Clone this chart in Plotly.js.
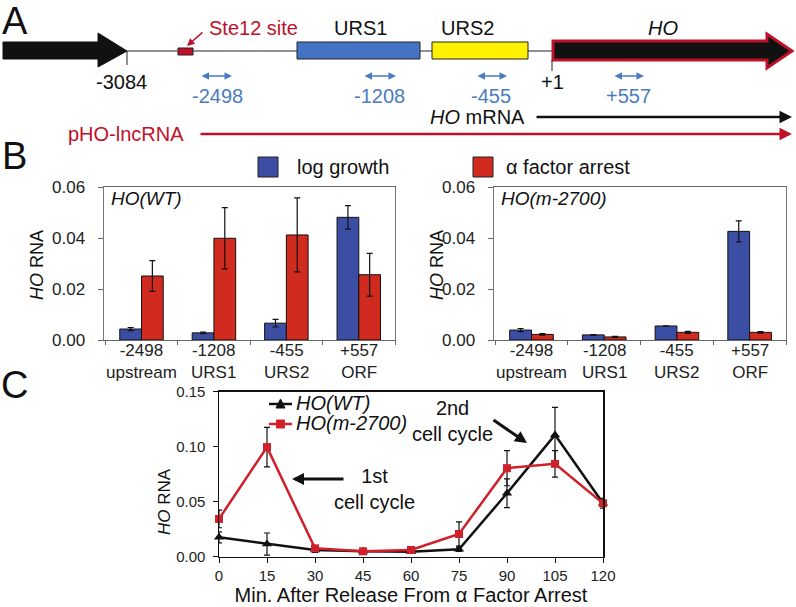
<!DOCTYPE html>
<html>
<head>
<meta charset="utf-8">
<script src="https://cdn.plot.ly/plotly-3.0.1.min.js"></script>
<style>
  body { margin: 0; background: #fff; }
  #fig { width: 796px; height: 607px; }
</style>
</head>
<body>
<div id="fig"></div>
<script>
// panel B data
const sites = ['-2498', '-1208', '-455', '+557'];
const regions = ['upstream', 'URS1', 'URS2', 'ORF'];
const wtLog = [0.0043, 0.0028, 0.0066, 0.0481];
const wtLogErr = [0.0006, 0.0003, 0.0015, 0.0046];
const wtAlpha = [0.0251, 0.0399, 0.0412, 0.0256];
const wtAlphaErr = [0.0060, 0.0120, 0.0145, 0.0084];
const mutLog = [0.0039, 0.0020, 0.0055, 0.0426];
const mutLogErr = [0.0006, 0.0001, 0.0000, 0.0041];
const mutAlpha = [0.0022, 0.0012, 0.0030, 0.0030];
const mutAlphaErr = [0.0003, 0.0002, 0.0004, 0.0003];

// panel C data
const minutes = [0, 15, 30, 45, 60, 75, 90, 105, 120];
const wtTime = [0.0176, 0.0115, 0.0060, 0.0049, 0.0045, 0.0067, 0.0576, 0.1106, 0.0485];
const wtTimeErr = [0.005, 0.010, 0.002, 0.001, 0.001, 0.002, 0.013, 0.025, 0.0045];
const mutTime = [0.0343, 0.0995, 0.0076, 0.0049, 0.0061, 0.0206, 0.0804, 0.0843, 0.0485];
const mutTimeErr = [0.008, 0.018, 0.002, 0.001, 0.001, 0.011, 0.016, 0.012, 0.003];

const W = 796, H = 607;
const px = x => x / W;
const py = y => 1 - y / H;

const FONT = 'Liberation Sans, Arial, sans-serif';
const BLUE = '#3C4EA4';
const RED = '#D12A1E';
const DARKRED = '#C0102A';
const LBLUE = '#4A7CC0';
const LINERED = '#D0202A';
const NB = '\u00a0';

const err = (arr) => ({ type: 'data', array: arr, visible: true, color: '#111', thickness: 1.2, width: 3 });

const data = [
  { type: 'bar', x: sites, y: wtLog, error_y: err(wtLogErr), marker: { color: BLUE, line: { color: '#111', width: 1 } }, xaxis: 'x', yaxis: 'y' },
  { type: 'bar', x: sites, y: wtAlpha, error_y: err(wtAlphaErr), marker: { color: RED, line: { color: '#111', width: 1 } }, xaxis: 'x', yaxis: 'y' },
  { type: 'bar', x: sites, y: mutLog, error_y: err(mutLogErr), marker: { color: BLUE, line: { color: '#111', width: 1 } }, xaxis: 'x2', yaxis: 'y2' },
  { type: 'bar', x: sites, y: mutAlpha, error_y: err(mutAlphaErr), marker: { color: RED, line: { color: '#111', width: 1 } }, xaxis: 'x2', yaxis: 'y2' },
  { type: 'scatter', mode: 'lines+markers', x: minutes, y: wtTime, error_y: err(wtTimeErr),
    line: { color: '#111', width: 2.5 }, marker: { symbol: 'triangle-up', size: 9, color: '#111' },
    xaxis: 'x3', yaxis: 'y3', cliponaxis: false },
  { type: 'scatter', mode: 'lines+markers', x: minutes, y: mutTime, error_y: err(mutTimeErr),
    line: { color: LINERED, width: 2.5 }, marker: { symbol: 'square', size: 8, color: LINERED },
    xaxis: 'x3', yaxis: 'y3', cliponaxis: false }
];

const barY = { domain: [py(340), py(187)], range: [0, 0.06], dtick: 0.02, tickformat: '.2f',
  ticks: 'outside', ticklen: 5, tickcolor: '#666', showline: true, linecolor: '#777', mirror: true,
  showgrid: false, zeroline: false, ticksuffix: NB + NB, tickfont: { size: 17, color: '#222' } };
const barX = { type: 'category', categoryorder: 'array', categoryarray: sites, ticks: 'outside', ticklen: 4,
  tickcolor: '#666', tickson: 'boundaries', showticklabels: false, showline: true, linecolor: '#666',
  mirror: true, showgrid: false };

const shapes = [
  // backbone line
  { type: 'line', xref: 'paper', yref: 'paper', x0: px(127), x1: px(552), y0: py(51), y1: py(51), line: { color: '#222', width: 1 } },
  // left gene arrow
  { type: 'path', xref: 'paper', yref: 'paper',
    path: `M ${px(3)} ${py(42)} L ${px(98)} ${py(42)} L ${px(98)} ${py(33)} L ${px(127)} ${py(51)} L ${px(98)} ${py(67)} L ${px(98)} ${py(59)} L ${px(3)} ${py(59)} Z`,
    fillcolor: '#111', line: { color: '#111', width: 1 } },
  { type: 'line', xref: 'paper', yref: 'paper', x0: px(127), x1: px(127), y0: py(51), y1: py(65), line: { color: '#222', width: 1 } },
  // Ste12 box
  { type: 'rect', xref: 'paper', yref: 'paper', x0: px(178), x1: px(193), y0: py(48), y1: py(55), fillcolor: DARKRED, line: { color: '#222', width: 1 } },
  // URS1, URS2
  { type: 'rect', xref: 'paper', yref: 'paper', x0: px(297), x1: px(420), y0: py(42), y1: py(59), fillcolor: '#4472C4', line: { color: '#222', width: 1 } },
  { type: 'rect', xref: 'paper', yref: 'paper', x0: px(432), x1: px(528), y0: py(42), y1: py(59), fillcolor: '#FFF200', line: { color: '#222', width: 1 } },
  // HO gene arrow
  { type: 'path', xref: 'paper', yref: 'paper',
    path: `M ${px(553)} ${py(41)} L ${px(767)} ${py(41)} L ${px(767)} ${py(34)} L ${px(792)} ${py(51)} L ${px(767)} ${py(68)} L ${px(767)} ${py(60)} L ${px(553)} ${py(60)} Z`,
    fillcolor: '#111', line: { color: DARKRED, width: 3 } },
  { type: 'line', xref: 'paper', yref: 'paper', x0: px(552), x1: px(552), y0: py(60), y1: py(71), line: { color: '#222', width: 1 } },
  // legend squares for B
  { type: 'rect', xref: 'paper', yref: 'paper', x0: px(258), x1: px(278), y0: py(157), y1: py(177), fillcolor: BLUE, line: { color: '#222', width: 1 } },
  { type: 'rect', xref: 'paper', yref: 'paper', x0: px(473), x1: px(493), y0: py(157), y1: py(177), fillcolor: RED, line: { color: '#222', width: 1 } },
  // legend keys for C
  { type: 'line', xref: 'paper', yref: 'paper', x0: px(269), x1: px(292), y0: py(404), y1: py(404), line: { color: '#111', width: 2.5 } },
  { type: 'path', xref: 'paper', yref: 'paper',
    path: `M ${px(276)} ${py(408)} L ${px(285)} ${py(408)} L ${px(280.5)} ${py(399)} Z`, fillcolor: '#111', line: { color: '#111', width: 1 } },
  { type: 'line', xref: 'paper', yref: 'paper', x0: px(269), x1: px(292), y0: py(424), y1: py(424), line: { color: LINERED, width: 2.5 } },
  { type: 'rect', xref: 'paper', yref: 'paper', x0: px(276.5), x1: px(284.5), y0: py(420), y1: py(428), fillcolor: LINERED, line: { color: LINERED, width: 1 } }
];

const txt = (x, y, text, size, color, extra) => Object.assign({
  xref: 'paper', yref: 'paper', x: px(x), y: py(y), text: text, showarrow: false,
  xanchor: 'center', yanchor: 'middle',
  font: { size: size, color: color || '#111', family: FONT }
}, extra || {});

const dbl = (x0, x1, y) => ({ xref: 'paper', yref: 'paper', x: px(x1), y: py(y), ax: x0 - x1, ay: 0,
  text: '', showarrow: true, arrowside: 'end+start', arrowhead: 2, arrowsize: 1, arrowwidth: 1.5, arrowcolor: LBLUE });

const annotations = [
  txt(15, 21, 'A', 38), txt(15, 156, 'B', 38), txt(15, 385, 'C', 38),
  txt(253, 28, 'Ste12 site', 20, DARKRED),
  { xref: 'paper', yref: 'paper', x: px(187), y: py(46), ax: 17, ay: -15, text: '', showarrow: true,
    arrowhead: 2, arrowsize: 1, arrowwidth: 1.5, arrowcolor: DARKRED },
  txt(360, 28, 'URS1', 20), txt(467, 28, 'URS2', 20), txt(663, 28, '<i>HO</i>', 20),
  txt(121, 82, '-3084', 20), txt(552, 82, '+1', 20),
  dbl(200, 232, 76), txt(217, 96, '-2498', 20, LBLUE),
  dbl(363, 396, 76), txt(379, 96, '-1208', 20, LBLUE),
  dbl(476, 507, 76), txt(491, 96, '-455', 20, LBLUE),
  dbl(613, 644, 76), txt(628, 96, '+557', 20, LBLUE),
  txt(527, 117, '<i>HO</i> mRNA', 20, '#111', { xanchor: 'right' }),
  { xref: 'paper', yref: 'paper', x: px(792), y: py(117), ax: 535 - 792, ay: 0, text: '', showarrow: true,
    arrowhead: 2, arrowsize: 1, arrowwidth: 2.5, arrowcolor: '#111' },
  txt(186, 134, 'pHO-lncRNA', 20, DARKRED, { xanchor: 'right' }),
  { xref: 'paper', yref: 'paper', x: px(792), y: py(134), ax: 199 - 792, ay: 0, text: '', showarrow: true,
    arrowhead: 2, arrowsize: 1, arrowwidth: 2.5, arrowcolor: DARKRED },
  txt(295, 167, 'log growth', 20, '#111', { xanchor: 'left' }),
  txt(504, 167, 'α factor arrest', 20, '#111', { xanchor: 'left' }),
  txt(109, 199, '<i>HO(WT)</i>', 19, '#111', { xanchor: 'left' }),
  txt(499, 199, '<i>HO(m-2700)</i>', 19, '#111', { xanchor: 'left' }),
  txt(37, 265, '<i>HO</i> RNA', 18, '#111', { textangle: -90 }),
  txt(437, 265, '<i>HO</i> RNA', 18, '#111', { textangle: -90 }),
  txt(164, 502, '<i>HO</i> RNA', 17, '#111', { textangle: -90 }),
  // legend text for C
  txt(294, 403, '<i>HO(WT)</i>', 20, '#111', { xanchor: 'left' }),
  txt(294, 423, '<i>HO(m-2700)</i>', 20, '#111', { xanchor: 'left' }),
  txt(374, 489, '1st<br>cell cycle', 20, '#111'),
  { xref: 'paper', yref: 'paper', x: px(292), y: py(479), ax: 345 - 292, ay: 0, text: '', showarrow: true,
    arrowhead: 2, arrowsize: 0.8, arrowwidth: 3, arrowcolor: '#111' },
  txt(452, 421, '2nd<br>cell cycle', 20, '#111'),
  { xref: 'paper', yref: 'paper', x: px(527), y: py(443), ax: 492 - 527, ay: 419 - 443, text: '', showarrow: true,
    arrowhead: 2, arrowsize: 0.8, arrowwidth: 3, arrowcolor: '#111' }
];

// two-line category labels under both bar panels
['x', 'x2'].forEach(ax => {
  sites.forEach((s, i) => {
    annotations.push({ xref: ax, yref: 'paper', x: i, y: py(361), text: s + '<br>' + regions[i], showarrow: false,
      xanchor: 'center', yanchor: 'middle', font: { size: 17, color: '#222', family: FONT } });
  });
});

const layout = {
  width: W, height: H,
  margin: { l: 0, r: 0, t: 0, b: 0 },
  paper_bgcolor: '#fff', plot_bgcolor: 'rgba(0,0,0,0)',
  font: { family: FONT, color: '#111' },
  showlegend: false,
  barmode: 'group', bargap: 0.4, bargroupgap: 0,
  xaxis: Object.assign({}, barX, { domain: [px(104), px(395)], anchor: 'y' }),
  yaxis: Object.assign({}, barY, { anchor: 'x' }),
  xaxis2: Object.assign({}, barX, { domain: [px(494), px(786)], anchor: 'y2' }),
  yaxis2: Object.assign({}, barY, { anchor: 'x2' }),
  xaxis3: { domain: [px(219), px(603)], anchor: 'y3', range: [0, 120], tickvals: minutes, ticks: 'outside',
    ticklen: 5, tickcolor: '#111', showline: true, linecolor: '#111', linewidth: 1.5, mirror: true, showgrid: false,
    zeroline: false, tickfont: { size: 15, color: '#222' },
    title: { text: 'Min. After Release From α Factor Arrest', font: { size: 20, color: '#111' }, standoff: 2 } },
  yaxis3: { domain: [py(556.7), py(391.5)], anchor: 'x3', range: [0, 0.15], dtick: 0.05, tickformat: '.2f',
    ticks: 'outside', ticklen: 5, tickcolor: '#111', showline: true, linecolor: '#111', linewidth: 1.5, mirror: true,
    showgrid: false, zeroline: false, ticksuffix: NB, tickfont: { size: 15, color: '#222' } },
  shapes: shapes,
  annotations: annotations
};

Plotly.newPlot('fig', data, layout, { displayModeBar: false, staticPlot: true });
</script>
</body>
</html>
